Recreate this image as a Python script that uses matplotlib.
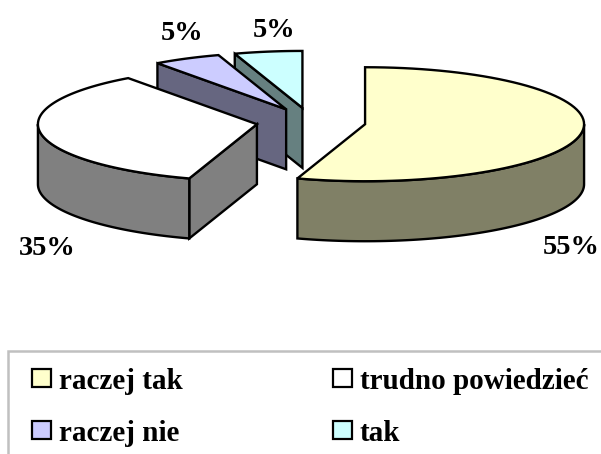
"""Exploded 3D-looking pie chart with a legend panel."""

import numpy as np
import matplotlib
matplotlib.use("Agg")
import matplotlib.pyplot as plt
from matplotlib.patches import Polygon, Rectangle

labels = ["raczej tak", "trudno powiedzieć", "raczej nie", "tak"]
shares = [55, 35, 5, 5]
pct_labels = ["55%", "35%", "5%", "5%"]
top_colors = ["#FFFFCC", "#FFFFFF", "#CCCCFF", "#CCFFFF"]
side_colors = ["#808066", "#808080", "#666680", "#668080"]

plt.rcParams['font.family'] = ['Liberation Serif', 'DejaVu Serif']

CENTER = (311.0, 122.0)
RX, RY = 219.0, 57.0
DEPTH = 60.0
EXPLODE = 0.25
LW = 1.7


def project(cx, cy, angle):
    # angle in degrees, clockwise from the top of the pie
    rad = np.radians(angle)
    return cx + RX * np.sin(rad), cy - RY * np.cos(rad)


def arc(cx, cy, a0, a1):
    angles = np.linspace(a0, a1, 80)
    x, y = project(cx, cy, angles)
    return np.column_stack([x, y])


def draw_wedge(ax, a0, a1, top, side):
    mid = (a0 + a1) / 2
    cx, cy = project(CENTER[0], CENTER[1], mid)
    cx = CENTER[0] + EXPLODE * (cx - CENTER[0])
    cy = CENTER[1] + EXPLODE * (cy - CENTER[1])
    down = np.array([0, DEPTH])
    apex = np.array([[cx, cy]])

    # radial faces, only those turned towards the viewer
    visible = []
    if np.sin(np.radians(a0)) < 0:
        visible.append(a0)
    if np.sin(np.radians(a1)) > 1e-6:
        visible.append(a1)
    for a in visible:
        edge = np.vstack([apex, arc(cx, cy, a, a)[:1]])
        face = np.vstack([edge, edge[::-1] + down])
        ax.add_patch(Polygon(face, closed=True, fc=side, ec="black", lw=LW, joinstyle="miter"))

    # outer wall, only the part that faces the viewer
    lo, hi = max(a0, 90), min(a1, 270)
    if lo < hi:
        rim = arc(cx, cy, lo, hi)
        wall = np.vstack([rim, rim[::-1] + down])
        ax.add_patch(Polygon(wall, closed=True, fc=side, ec="black", lw=LW, joinstyle="miter"))

    # top
    outline = np.vstack([apex, arc(cx, cy, a0, a1)])
    ax.add_patch(Polygon(outline, closed=True, fc=top, ec="black", lw=LW, joinstyle="miter"))


def main():
    fig = plt.figure(figsize=(6.01, 4.54), dpi=100)
    ax = fig.add_axes([0, 0, 1, 1])
    ax.set_xlim(0, 601)
    ax.set_ylim(454, 0)
    ax.axis("off")

    edges = np.concatenate([[0], np.cumsum(shares)]) / np.sum(shares) * 360

    # back slices first so the front ones cover them
    for i in [3, 2, 1, 0]:
        draw_wedge(ax, edges[i], edges[i + 1], top_colors[i], side_colors[i])

    pct_pos = [(571, 254), (47, 255), (182, 40), (274, 37)]
    for text, (x, y) in zip(pct_labels, pct_pos):
        ax.text(x, y, text, ha="center", va="baseline", fontsize=20.4, fontweight="bold", color="black")

    # legend panel, runs off the right and bottom of the image
    ax.add_patch(Rectangle((8, 351), 640, 150, fc="white", ec="#C0C0C0", lw=1.8))
    legend_x = [32, 333]
    legend_y = [369, 421]
    for i, name in enumerate(labels):
        x = legend_x[i % 2]
        y = legend_y[i // 2]
        ax.add_patch(Rectangle((x, y), 19, 18, fc=top_colors[i], ec="black", lw=1.6))
        ax.text(x + 27, y + 20, name, ha="left", va="baseline", fontsize=21, fontweight="bold", color="black")

    fig.savefig("out.png", dpi=100, facecolor="white")


if __name__ == "__main__":
    main()
